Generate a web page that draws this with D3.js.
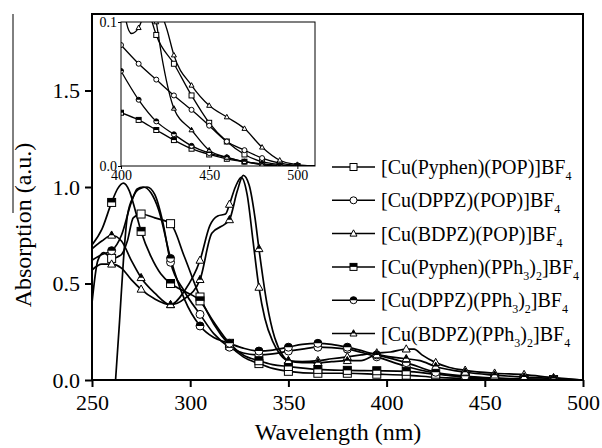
<!DOCTYPE html>
<html>
<head>
<meta charset="utf-8">
<script src="https://cdn.jsdelivr.net/npm/d3@7"></script>
<style>
  body { margin: 0; background: #fff; }
  svg { display: block; }
  svg text, svg tspan { font-family: "Liberation Serif" !important; }
</style>
</head>
<body>
<svg id="chart" width="602" height="448" font-family="Liberation Serif"></svg>
<script>
// ---- main plot data (wavelength nm, absorption) ----
const wlPyPOP = [250,253,256,260,265,268,271,275,282,290,297,305,312,320,327,335,342,350,365,380,395,410,425,440,455,470,485,500];
const absPyPOP = [0.40,0.62,0.66,0.63,0.65,0.72,0.84,0.86,0.84,0.81,0.64,0.43,0.29,0.18,0.12,0.085,0.06,0.045,0.035,0.035,0.03,0.025,0.014,0.008,0.004,0.002,0.001,0];

const wlDpPOP = [262,264,266,268,271,274,278,282,286,290,297,305,312,320,327,335,342,350,357,365,372,380,395,410,425,440,455,470,485,500];
const absDpPOP = [0,0.30,0.62,0.85,0.95,0.99,1.0,0.96,0.82,0.61,0.46,0.34,0.24,0.17,0.14,0.13,0.135,0.15,0.16,0.17,0.168,0.16,0.12,0.07,0.035,0.015,0.008,0.004,0.002,0];

const wlBdPOP = [250,255,260,265,270,275,282,290,297,305,310,314,318,320,323,326,329,332,335,338,342,346,350,357,365,372,380,387,395,402,410,414,418,425,432,440,455,470,485,500];
const absBdPOP = [0.57,0.60,0.60,0.58,0.52,0.47,0.42,0.39,0.46,0.62,0.80,0.85,0.86,0.91,1.0,1.05,0.96,0.72,0.48,0.32,0.20,0.13,0.10,0.095,0.10,0.11,0.12,0.13,0.14,0.145,0.16,0.16,0.13,0.09,0.065,0.05,0.035,0.028,0.012,0];

const wlPyPh = [250,255,260,263,266,269,272,275,280,285,290,297,305,312,320,327,335,342,350,365,380,395,410,425,440,455,470,485,500];
const absPyPh = [0.70,0.78,0.92,0.99,1.02,0.98,0.88,0.77,0.64,0.55,0.50,0.46,0.41,0.30,0.19,0.13,0.10,0.08,0.07,0.055,0.05,0.048,0.045,0.03,0.016,0.008,0.004,0.002,0];

const wlDpPh = [250,255,260,265,270,273,276,280,284,290,297,305,312,320,327,335,342,350,357,365,372,380,395,410,425,440,455,470,485,500];
const absDpPh = [0.62,0.65,0.67,0.75,0.92,0.99,1.0,0.97,0.88,0.63,0.42,0.28,0.22,0.19,0.165,0.15,0.155,0.17,0.185,0.19,0.185,0.17,0.13,0.09,0.04,0.02,0.01,0.005,0.002,0];

const wlBdPh = [250,255,260,265,270,275,282,290,297,305,311,318,320,324,327,330,333,335,339,343,347,350,357,365,372,380,387,395,402,410,417,425,440,455,470,485,500];
const absBdPh = [0.68,0.72,0.75,0.72,0.62,0.53,0.45,0.39,0.42,0.52,0.76,0.81,0.83,0.98,1.06,1.01,0.84,0.68,0.40,0.22,0.13,0.10,0.09,0.09,0.095,0.10,0.10,0.13,0.12,0.11,0.10,0.07,0.04,0.025,0.015,0.008,0];

// ---- inset data (400-510 nm, zoomed to 0-0.1) ----
const wlInA = [400,410,415,420,430,440,450,460,470,480,490,500,510];
const absInA = [0.2,0.14,0.112,0.091,0.071,0.049,0.030,0.017,0.008,0.003,0.001,0,0];
const wlInB = [400,403,406,410,413,418,422,426,430,440,450,460,470,480,490,500,510];
const absInB = [0.125,0.1,0.092,0.096,0.105,0.115,0.108,0.095,0.077,0.056,0.042,0.034,0.026,0.013,0.004,0.001,0];
const wlInC = [400,410,420,430,440,450,460,470,480,490,500,510];
const absInC = [0.084,0.071,0.060,0.049,0.039,0.028,0.017,0.011,0.0055,0.002,0.0005,0];
const wlInD = [400,410,420,430,440,450,460,470,480,490,500,510];
const absInD = [0.066,0.046,0.031,0.022,0.014,0.009,0.006,0.003,0.0015,0.0005,0,0];
const wlInE = [400,410,420,430,440,450,460,470,480,490,500,510];
const absInE = [0.037,0.032,0.025,0.018,0.012,0.008,0.005,0.003,0.001,0,0,0];
const wlInF = [400,410,416,420,424,430,440,450,460,470,480,490,500,510];
const absInF = [0.3,0.2,0.13,0.1,0.07,0.040,0.025,0.011,0.006,0.003,0.001,0,0,0];

const xTicks = [250, 300, 350, 400, 450, 500];
const yTicks = [0, 0.5, 1.0, 1.5];
const insetXTicks = [400, 450, 500];
const insetYTicks = [0, 0.1];
const markerWl = d3.range(260, 486, 15);
const insetMarkerWl = d3.range(400, 501, 10);

// legend labels: [text, isSubscript]
const legendLabels = [
  [['[Cu(Pyphen)(POP)]BF', 0], ['4', 1]],
  [['[Cu(DPPZ)(POP)]BF', 0], ['4', 1]],
  [['[Cu(BDPZ)(POP)]BF', 0], ['4', 1]],
  [['[Cu(Pyphen)(PPh', 0], ['3', 1], [')', 0], ['2', 1], [']BF', 0], ['4', 1]],
  [['[Cu(DPPZ)(PPh', 0], ['3', 1], [')', 0], ['2', 1], [']BF', 0], ['4', 1]],
  [['[Cu(BDPZ)(PPh', 0], ['3', 1], [')', 0], ['2', 1], [']BF', 0], ['4', 1]]
];
const shapes = ['square', 'circle', 'triangle', 'square', 'circle', 'triangle'];
const halves = [false, false, false, true, true, true];

const mainSeries = [
  [wlPyPOP, absPyPOP], [wlDpPOP, absDpPOP], [wlBdPOP, absBdPOP],
  [wlPyPh, absPyPh], [wlDpPh, absDpPh], [wlBdPh, absBdPh]
];
const insetSeries = [
  [wlInA, absInA], [wlInC, absInC], [wlInB, absInB],
  [wlInE, absInE], [wlInD, absInD], [wlInF, absInF]
];

const FONT = 'Liberation Serif';
const svg = d3.select('#chart');

const x = d3.scaleLinear().domain([250, 500]).range([92, 583]);
const y = d3.scaleLinear().domain([0, 1.9]).range([380, 13.3]);

function drawMarker(g, shape, half, cx, cy, s) {
  if (shape === 'square') {
    g.append('rect').attr('x', cx - s / 2).attr('y', cy - s / 2).attr('width', s).attr('height', s)
      .attr('fill', '#fff').attr('stroke', '#000').attr('stroke-width', 1);
    if (half) {
      g.append('rect').attr('x', cx - s / 2).attr('y', cy - s / 2).attr('width', s).attr('height', s / 2)
        .attr('fill', '#000');
    }
  } else if (shape === 'circle') {
    const r = s / 2;
    g.append('circle').attr('cx', cx).attr('cy', cy).attr('r', r)
      .attr('fill', '#fff').attr('stroke', '#000').attr('stroke-width', 1);
    if (half) {
      g.append('path').attr('d', `M${cx - r},${cy}A${r},${r} 0 0 1 ${cx + r},${cy}Z`).attr('fill', '#000');
    }
  } else {
    const h = s * 0.9;
    const top = cy - h * 0.6, bot = cy + h * 0.4;
    g.append('path').attr('d', `M${cx},${top}L${cx + s / 2},${bot}L${cx - s / 2},${bot}Z`)
      .attr('fill', '#fff').attr('stroke', '#000').attr('stroke-width', 1);
    if (half) {
      const hw = (s / 2) * (cy - top) / h;
      g.append('path').attr('d', `M${cx},${top}L${cx + hw},${cy}L${cx - hw},${cy}Z`).attr('fill', '#000');
    }
  }
}

function styleTicks(g, size) {
  g.select('.domain').remove();
  g.attr('font-family', FONT);
  g.selectAll('text').attr('font-size', size);
}

// ---- main plot ----
svg.append('clipPath').attr('id', 'clipMain')
  .append('rect').attr('x', 92).attr('y', 13).attr('width', 491).attr('height', 367);

const line = d3.line().x(d => x(d[0])).y(d => y(d[1])).curve(d3.curveMonotoneX);
const plot = svg.append('g').attr('clip-path', 'url(#clipMain)');

mainSeries.forEach(([wl, ab]) => {
  plot.append('path').datum(wl.map((w, i) => [w, ab[i]]))
    .attr('d', line).attr('fill', 'none').attr('stroke', '#000').attr('stroke-width', 1.7);
});
mainSeries.forEach(([wl, ab], k) => {
  const g = plot.append('g');
  wl.forEach((w, i) => {
    if (markerWl.includes(w)) drawMarker(g, shapes[k], halves[k], x(w), y(ab[i]), 8);
  });
});

svg.append('g').attr('transform', 'translate(0,380)')
  .call(d3.axisBottom(x).tickValues(xTicks).tickSize(7).tickPadding(7).tickFormat(d3.format('d')))
  .call(g => styleTicks(g, 22))
  .call(g => g.selectAll('line').attr('stroke-width', 2));

svg.append('g').attr('transform', 'translate(92,0)')
  .call(d3.axisLeft(y).tickValues(yTicks).tickSize(7).tickPadding(5).tickFormat(d3.format('.1f')))
  .call(g => styleTicks(g, 22))
  .call(g => g.selectAll('line').attr('stroke-width', 2));

svg.append('rect').attr('x', 92).attr('y', 14).attr('width', 491).attr('height', 366)
  .attr('fill', 'none').attr('stroke', '#000').attr('stroke-width', 2);

svg.append('text').attr('x', 338).attr('y', 440).attr('text-anchor', 'middle')
  .attr('font-size', 24).text('Wavelength (nm)');
svg.append('text').attr('transform', 'translate(31,225) rotate(-90)').attr('text-anchor', 'middle')
  .attr('font-size', 24).text('Absorption (a.u.)');
svg.append('line').attr('x1', 13).attr('x2', 13).attr('y1', 14).attr('y2', 213)
  .attr('stroke', '#000').attr('stroke-width', 1);

// ---- inset ----
const xi = d3.scaleLinear().domain([400, 510]).range([121, 315]);
const yi = d3.scaleLinear().domain([0, 0.1]).range([166, 22]);

svg.append('rect').attr('x', 121).attr('y', 22).attr('width', 194).attr('height', 144)
  .attr('fill', '#fff');
svg.append('clipPath').attr('id', 'clipInset')
  .append('rect').attr('x', 121).attr('y', 22).attr('width', 194).attr('height', 144);

const lineI = d3.line().x(d => xi(d[0])).y(d => yi(d[1])).curve(d3.curveMonotoneX);
const inset = svg.append('g').attr('clip-path', 'url(#clipInset)');
insetSeries.forEach(([wl, ab]) => {
  inset.append('path').datum(wl.map((w, i) => [w, ab[i]]))
    .attr('d', lineI).attr('fill', 'none').attr('stroke', '#000').attr('stroke-width', 1.3);
});
insetSeries.forEach(([wl, ab], k) => {
  const g = inset.append('g');
  wl.forEach((w, i) => {
    if (insetMarkerWl.includes(w) && ab[i] <= 0.1) drawMarker(g, shapes[k], halves[k], xi(w), yi(ab[i]), 5);
  });
});

svg.append('g').attr('transform', 'translate(0,166)')
  .call(d3.axisBottom(xi).tickValues(insetXTicks).tickSize(3).tickPadding(1).tickFormat(d3.format('d')))
  .call(g => styleTicks(g, 14));
svg.append('g').attr('transform', 'translate(121,0)')
  .call(d3.axisLeft(yi).tickValues(insetYTicks).tickSize(3).tickPadding(1).tickFormat(d3.format('.1f')))
  .call(g => styleTicks(g, 14));

svg.append('rect').attr('x', 121).attr('y', 22).attr('width', 194).attr('height', 144)
  .attr('fill', 'none').attr('stroke', '#000').attr('stroke-width', 1);

// ---- legend ----
legendLabels.forEach((parts, i) => {
  const ly = 167 + i * 33.3;
  const g = svg.append('g');
  g.append('line').attr('x1', 332).attr('x2', 375).attr('y1', ly).attr('y2', ly)
    .attr('stroke', '#000').attr('stroke-width', 1.5);
  drawMarker(g, shapes[i], halves[i], 353.5, ly, 7);
  const t = g.append('text').attr('x', 381).attr('y', ly + 7).attr('font-size', 20);
  let shifted = false;
  parts.forEach(([s, sub]) => {
    const span = t.append('tspan').text(s);
    if (sub) { span.attr('font-size', 12).attr('dy', 6); shifted = true; }
    else if (shifted) { span.attr('dy', -6); shifted = false; }
  });
});
</script>
</body>
</html>
